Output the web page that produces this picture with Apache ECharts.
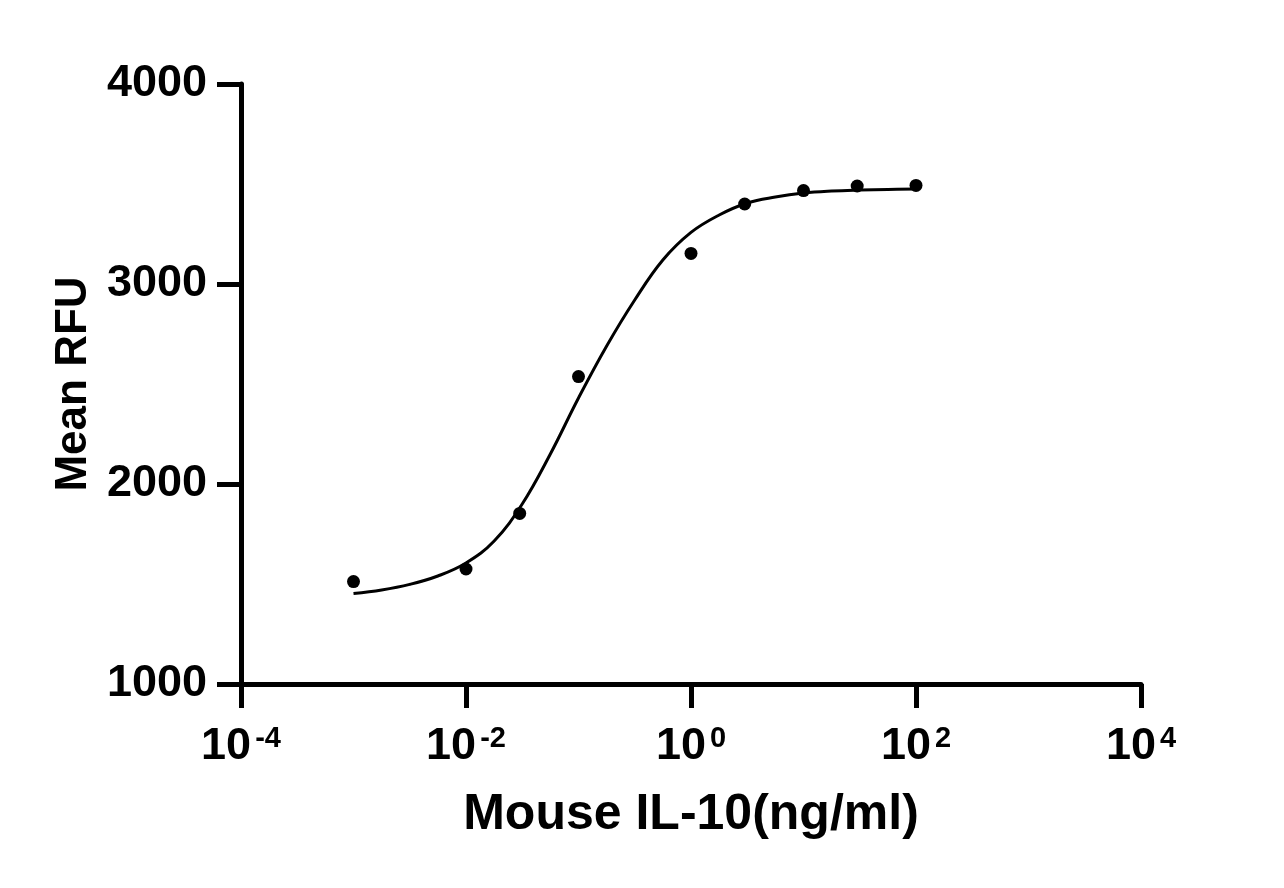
<!DOCTYPE html>
<html>
<head>
<meta charset="utf-8">
<title>Mouse IL-10 dose response</title>
<script src="https://cdn.jsdelivr.net/npm/echarts@6/dist/echarts.min.js"></script>
<style>
  html, body { margin: 0; padding: 0; background: #fff; }
  #chart { width: 1284px; height: 888px; }
</style>
</head>
<body>
<div id="chart"></div>
<script>
// measured points (ng/ml vs mean RFU)
const doseX = [0.001, 0.01, 0.03, 0.1, 1, 3, 10, 30, 100];
const meanRFU = [1512, 1575, 1853, 2537, 3153, 3400, 3467, 3490, 3493];

// fitted curve at quarter-decade steps
const fitX = [0.001, 0.00178, 0.00316, 0.00562, 0.01, 0.0178, 0.0316, 0.0562, 0.1,
  0.178, 0.316, 0.562, 1, 1.78, 3.16, 5.62, 10, 17.8, 31.6, 56.2, 100];
const fitY = [1452, 1470, 1498, 1540, 1605, 1715, 1900, 2150, 2430,
  2690, 2920, 3120, 3258, 3345, 3405, 3435, 3455, 3465, 3470, 3473, 3475];

const yTicks = [1000, 2000, 3000, 4000];

const FONT = '"Liberation Sans", Arial, sans-serif';

const chart = echarts.init(document.getElementById('chart'));

const option = {
  animation: false,
  backgroundColor: '#fff',
  grid: { left: 241, right: 143, top: 84, bottom: 204, containLabel: false },
  xAxis: {
    type: 'log',
    logBase: 10,
    min: 1e-4,
    max: 1e4,
    interval: 2,
    splitNumber: 4,
    name: 'Mouse IL-10(ng/ml)',
    nameLocation: 'middle',
    nameGap: 106,
    nameTextStyle: { fontFamily: FONT, fontWeight: 'bold', fontSize: 50, color: '#000' },
    axisLine: { show: true, lineStyle: { color: '#000', width: 5 } },
    axisTick: { show: true, length: 24, lineStyle: { color: '#000', width: 5 } },
    splitLine: { show: false },
    minorTick: { show: false },
    axisLabel: {
      margin: 40,
      color: '#000',
      formatter: function (v) {
        const e = Math.round(Math.log10(v));
        return '{b|10}{s|' + e + '}';
      },
      rich: {
        b: { fontFamily: FONT, fontWeight: 'bold', fontSize: 45, color: '#000' },
        s: { fontFamily: FONT, fontWeight: 'bold', fontSize: 29, color: '#000',
             verticalAlign: 'top', padding: [0, 0, 0, 4] }
      }
    }
  },
  yAxis: {
    type: 'value',
    min: yTicks[0],
    max: yTicks[yTicks.length - 1],
    interval: 1000,
    name: 'Mean RFU',
    nameLocation: 'middle',
    nameGap: 141,
    nameTextStyle: { fontFamily: FONT, fontWeight: 'bold', fontSize: 44, color: '#000' },
    axisLine: { show: true, lineStyle: { color: '#000', width: 5 } },
    axisTick: { show: true, length: 24, lineStyle: { color: '#000', width: 5 } },
    splitLine: { show: false },
    axisLabel: {
      margin: 34,
      fontFamily: FONT,
      fontWeight: 'bold',
      fontSize: 45,
      color: '#000',
      formatter: function (v) { return String(v); }
    }
  },
  series: [
    {
      name: 'fit',
      type: 'line',
      data: fitX.map((x, i) => [x, fitY[i]]),
      smooth: 0.4,
      showSymbol: false,
      symbol: 'none',
      lineStyle: { color: '#000', width: 3 },
      z: 2
    },
    {
      name: 'Mean RFU',
      type: 'scatter',
      data: doseX.map((x, i) => [x, meanRFU[i]]),
      symbol: 'circle',
      symbolSize: 13,
      itemStyle: { color: '#000', opacity: 1 },
      z: 3
    }
  ]
};

chart.setOption(option);
window.addEventListener('resize', function () {
  chart.resize();
});
</script>
</body>
</html>
